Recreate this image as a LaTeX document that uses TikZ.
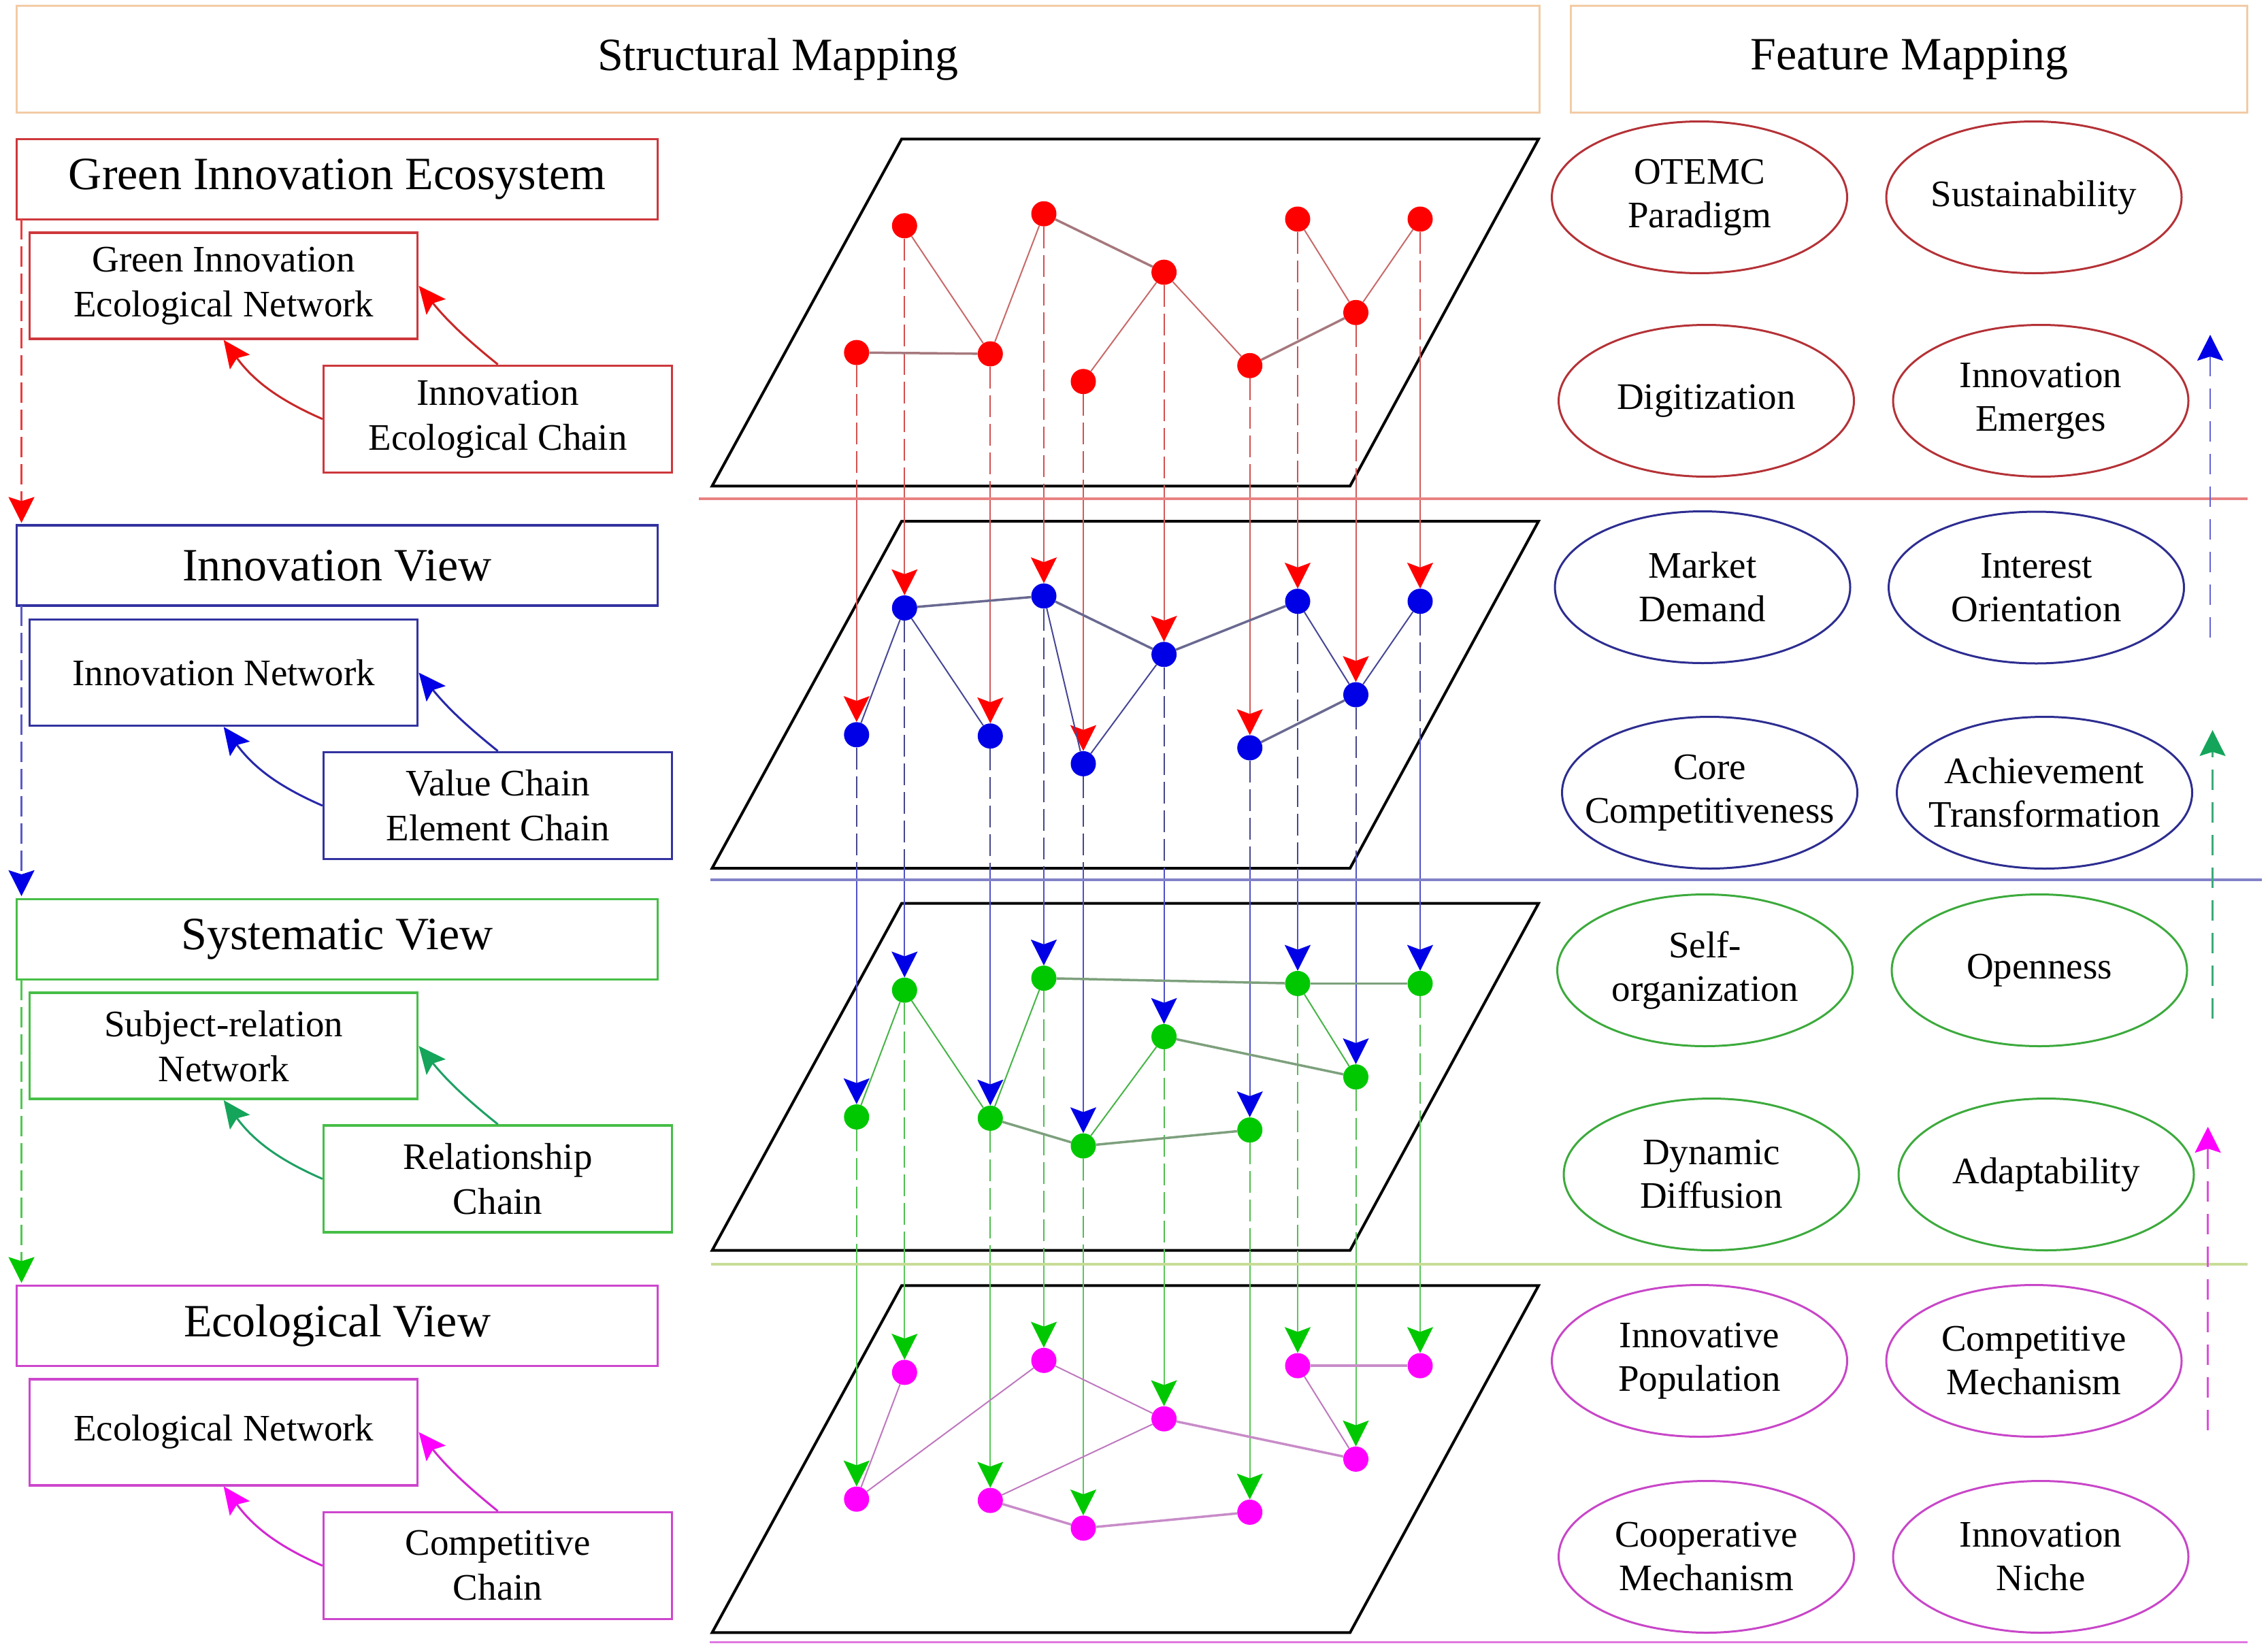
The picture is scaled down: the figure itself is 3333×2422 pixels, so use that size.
\documentclass[tikz,border=0pt]{standalone}
\usepackage{fontspec}
\setmainfont{Liberation Serif}
\usetikzlibrary{shapes.geometric,arrows.meta,calc}
\definecolor{hdrc}{RGB}{243,203,165}
\definecolor{bred}{RGB}{205,55,60}
\definecolor{bblue}{RGB}{50,50,160}
\definecolor{bgreen}{RGB}{70,190,70}
\definecolor{bmag}{RGB}{205,70,205}
\definecolor{ered}{RGB}{180,50,55}
\definecolor{eblue}{RGB}{45,45,145}
\definecolor{egreen}{RGB}{60,170,60}
\definecolor{emag}{RGB}{200,70,200}
\definecolor{nred}{RGB}{255,0,0}
\definecolor{nblue}{RGB}{0,0,230}
\definecolor{ngreen}{RGB}{0,200,0}
\definecolor{nmag}{RGB}{255,0,255}
\definecolor{nteal}{RGB}{20,165,90}
\definecolor{sepred}{RGB}{232,130,130}
\definecolor{sepblue}{RGB}{130,130,200}
\definecolor{sepgreen}{RGB}{200,220,150}
\definecolor{sepmag}{RGB}{225,120,225}
\definecolor{dred}{RGB}{210,80,80}
\definecolor{dblue}{RGB}{70,70,140}
\definecolor{dgreen}{RGB}{80,190,80}
\definecolor{sred}{RGB}{210,90,90}
\definecolor{sblue}{RGB}{80,80,200}
\definecolor{sgreen}{RGB}{90,200,90}
\definecolor{e1a}{RGB}{200,105,105}
\definecolor{e1b}{RGB}{165,120,125}
\definecolor{e2a}{RGB}{70,70,150}
\definecolor{e2b}{RGB}{105,105,145}
\definecolor{e3a}{RGB}{70,180,70}
\definecolor{e3b}{RGB}{125,160,125}
\definecolor{e4a}{RGB}{190,120,190}
\definecolor{e4b}{RGB}{200,140,200}
\definecolor{ldred}{RGB}{235,60,60}
\definecolor{ldblue}{RGB}{90,90,200}
\definecolor{ldgreen}{RGB}{80,200,80}
\definecolor{cred}{RGB}{200,40,40}
\definecolor{cblue}{RGB}{40,40,170}
\definecolor{cteal}{RGB}{30,160,100}
\definecolor{cmag}{RGB}{210,40,210}
\definecolor{ublue}{RGB}{100,100,210}
\definecolor{uteal}{RGB}{60,170,120}
\definecolor{umag}{RGB}{220,80,220}
\begin{document}
\begin{tikzpicture}[x=1pt,y=-1pt,
  hdrbox/.style={draw=hdrc, line width=3pt, minimum height=157pt, inner sep=0pt, font=\fontsize{68}{80}\selectfont},
  titlebox/.style={draw=#1, line width=3.5pt, minimum width=942pt, minimum height=118pt, inner sep=0pt, font=\fontsize{68}{80}\selectfont},
  subbox/.style={draw=#1, line width=3.5pt, minimum width=570pt, minimum height=156pt, inner sep=0pt, align=center, font=\fontsize{55}{66}\selectfont},
  chainbox/.style={draw=#1, line width=3.5pt, minimum width=512pt, minimum height=157pt, inner sep=0pt, align=center, font=\fontsize{55}{66}\selectfont},
  feat/.style={ellipse, draw=#1, line width=3pt, minimum width=434pt, minimum height=223pt, inner sep=0pt},
  ftext/.style={align=center, inner sep=0pt, font=\fontsize{55}{64}\selectfont},
  dot/.style={circle, fill=#1, minimum size=37pt, inner sep=0pt},
  plane/.style={draw=black, line width=4pt, line join=miter},
  layerdash/.style={line width=2pt, dash pattern=on 32pt off 10pt},
  layerline/.style={line width=2pt},
  thinedge/.style={line width=2pt},
  thickedge/.style={line width=3.5pt},
  sepline/.style={line width=3.5pt},
  leftarr/.style 2 args={draw=#1, line width=2.5pt, dash pattern=on 30pt off 10pt, -{Stealth[length=38pt,width=38pt,inset=6pt,color=#2]}},
  uparr/.style 2 args={draw=#1, line width=2.5pt, dash pattern=on 30pt off 18pt, -{Stealth[length=38pt,width=38pt,inset=6pt,color=#2]}},
  chainarr/.style 2 args={draw=#1, line width=3pt, -{Stealth[length=40pt,width=36pt,inset=7pt,color=#2]}}
]
\useasboundingbox (0,0) rectangle (3333,2422);

% headers
\node[hdrbox, minimum width=2238pt] (h1) at (1143.5,87.25) {Structural Mapping};
\node[hdrbox, minimum width=994pt] (h2) at (2805.9,87.25) {Feature Mapping};

% planes
\foreach \ty in {204.3,766,1327.7,1889.4}{
  \draw[plane] (1325,\ty) -- (2261,\ty) -- (1984,\ty+510) -- (1046.5,\ty+510) -- cycle;
}

% network nodes
\foreach \lk/\ty/\col in {1/204.3/nred,2/766/nblue,3/1327.7/ngreen,4/1889.4/nmag}{
  \foreach \nn/\px/\py in {1/1258.8/313.8,2/1329.3/127.5,3/1455.3/315.7,4/1534/109.9,5/1592/356.4,6/1710.6/195.8,7/1836.7/333,8/1907/117.7,9/1992.5/255,10/2087/117.7}{
    \node[dot=\col] (L\lk n\nn) at (\px,\ty+\py) {};
  }
}

% exit points of planes
\foreach \lk/\ty in {1/204.3,2/766,3/1327.7}{
  \foreach \nn/\px/\ey in {1/1258.8/510,2/1329.3/510,3/1455.3/510,4/1534/510,5/1592/510,6/1710.6/510,7/1836.7/510,8/1907/510,9/1992.5/491.7,10/2087/318.6}{
    \coordinate (X\lk n\nn) at (\px,\ty+\ey);
  }
}

% vertical mapping lines
\foreach \lk/\lnext/\dc/\sc/\hc in {1/2/dred/sred/nred,2/3/dblue/sblue/nblue,3/4/dgreen/sgreen/ngreen}{
  \foreach \nn in {1,...,10}{
    \draw[layerdash,\dc] (L\lk n\nn) -- (X\lk n\nn);
    \draw[layerline,\sc,-{Stealth[length=38pt,width=38pt,inset=7pt,color=\hc]}] (X\lk n\nn) -- (L\lnext n\nn);
  }
}

% edges layer 1
\foreach \ea/\eb in {2/3,3/4,5/6,6/7,8/9,9/10} \draw[thinedge,e1a] (L1n\ea) -- (L1n\eb);
\foreach \ea/\eb in {1/3,4/6,7/9} \draw[thickedge,e1b] (L1n\ea) -- (L1n\eb);
% edges layer 2
\foreach \ea/\eb in {1/2,2/3,4/5,5/6,8/9,9/10} \draw[thinedge,e2a] (L2n\ea) -- (L2n\eb);
\foreach \ea/\eb in {2/4,4/6,6/8,7/9} \draw[thickedge,e2b] (L2n\ea) -- (L2n\eb);
% edges layer 3
\foreach \ea/\eb in {1/2,2/3,3/4,5/6,8/9} \draw[thinedge,e3a] (L3n\ea) -- (L3n\eb);
\foreach \ea/\eb in {4/8,8/10,6/9,3/5,5/7} \draw[thickedge,e3b] (L3n\ea) -- (L3n\eb);
% edges layer 4
\foreach \ea/\eb in {1/2,1/4,4/6,3/6,8/9} \draw[thinedge,e4a] (L4n\ea) -- (L4n\eb);
\foreach \ea/\eb in {8/10,6/9,3/5,5/7} \draw[thickedge,e4b] (L4n\ea) -- (L4n\eb);

% separator lines
\coordinate (r1a) at (1027,733); \coordinate (r1b) at (3303,733);
\coordinate (r2a) at (1044,1293); \coordinate (r2b) at (3324,1293);
\coordinate (r3a) at (1045,1858); \coordinate (r3b) at (3303,1858);
\coordinate (r4a) at (1043,2413.6); \coordinate (r4b) at (3303,2413.6);
\draw[sepline,sepred] (r1a) -- (r1b);
\draw[sepline,sepblue] (r2a) -- (r2b);
\draw[sepline,sepgreen] (r3a) -- (r3b);
\draw[sepline,sepmag] (r4a) -- (r4b);

% left column
\node[titlebox=bred] (t1) at (495.6,263.4) {Green Innovation Ecosystem};
\node[subbox=bred] (s1) at (328.7,420) {Green Innovation\\Ecological Network};
\node[chainbox=bred] (c1) at (731.6,615.8) {Innovation\\Ecological Chain};
\node[titlebox=bblue] (t2) at (495.6,831.2) {Innovation View};
\node[subbox=bblue] (s2) at (328.7,988.5) {Innovation Network};
\node[chainbox=bblue] (c2) at (731.6,1184) {Value Chain\\Element Chain};
\node[titlebox=bgreen] (t3) at (495.6,1380.4) {Systematic View};
\node[subbox=bgreen] (s3) at (328.7,1537.2) {Subject-relation\\Network};
\node[chainbox=bgreen] (c3) at (731.6,1732.5) {Relationship\\Chain};
\node[titlebox=bmag] (t4) at (495.6,1948.5) {Ecological View};
\node[subbox=bmag] (s4) at (328.7,2104.8) {Ecological Network};
\node[chainbox=bmag] (c4) at (731.6,2301) {Competitive\\Chain};

\draw[chainarr={cred}{nred}] (c1.north) to[bend left=6] (s1.east);
\draw[chainarr={cred}{nred}] (c1.west) to[bend left=15] (s1.south);
\draw[chainarr={cblue}{nblue}] (c2.north) to[bend left=6] (s2.east);
\draw[chainarr={cblue}{nblue}] (c2.west) to[bend left=15] (s2.south);
\draw[chainarr={cteal}{nteal}] (c3.north) to[bend left=6] (s3.east);
\draw[chainarr={cteal}{nteal}] (c3.west) to[bend left=15] (s3.south);
\draw[chainarr={cmag}{nmag}] (c4.north) to[bend left=6] (s4.east);
\draw[chainarr={cmag}{nmag}] (c4.west) to[bend left=15] (s4.south);

\coordinate (v1a) at (31.6,322.3); \coordinate (v1b) at (31.6,768.5);
\coordinate (v2a) at (31.6,890);   \coordinate (v2b) at (31.6,1317);
\coordinate (v3a) at (31.6,1439.7);\coordinate (v3b) at (31.6,1885.5);
\draw[leftarr={ldred}{nred}] (v1a) -- (v1b);
\draw[leftarr={ldblue}{nblue}] (v2a) -- (v2b);
\draw[leftarr={ldgreen}{ngreen}] (v3a) -- (v3b);

% feature ellipses
\node[feat=ered] (f1) at (2497.5,290) {};
\node[ftext] (f1t) at (f1) {OTEMC\\Paradigm};
\node[feat=ered] (f2) at (2989,290) {};
\node[ftext] (f2t) at (f2) {Sustainability};
\node[feat=ered] (f3) at (2507.5,589) {};
\node[ftext] (f3t) at (f3) {Digitization};
\node[feat=ered] (f4) at (2999,589) {};
\node[ftext] (f4t) at (f4) {Innovation\\Emerges};
\node[feat=eblue] (f5) at (2502,863) {};
\node[ftext] (f5t) at (f5) {Market\\Demand};
\node[feat=eblue] (f6) at (2992.5,863.5) {};
\node[ftext] (f6t) at (f6) {Interest\\Orientation};
\node[feat=eblue] (f7) at (2512.5,1165) {};
\node[ftext] (f7t) at (f7) {Core\\Competitiveness};
\node[feat=eblue] (f8) at (3004.5,1165) {};
\node[ftext] (f8t) at (f8) {Achievement\\Transformation};
\node[feat=egreen] (f9) at (2505.5,1426) {};
\node[ftext] (f9t) at (f9) {Self-\\organization};
\node[feat=egreen] (f10) at (2997,1426) {};
\node[ftext] (f10t) at (f10) {Openness};
\node[feat=egreen] (f11) at (2515,1726) {};
\node[ftext] (f11t) at (f11) {Dynamic\\Diffusion};
\node[feat=egreen] (f12) at (3007,1726) {};
\node[ftext] (f12t) at (f12) {Adaptability};
\node[feat=emag] (f13) at (2497.5,2000) {};
\node[ftext] (f13t) at (f13) {Innovative\\Population};
\node[feat=emag] (f14) at (2989,2000) {};
\node[ftext] (f14t) at (f14) {Competitive\\Mechanism};
\node[feat=emag] (f15) at (2507.5,2288) {};
\node[ftext] (f15t) at (f15) {Cooperative\\Mechanism};
\node[feat=emag] (f16) at (2999,2288) {};
\node[ftext] (f16t) at (f16) {Innovation\\Niche};

% right upward arrows
\coordinate (u1a) at (3248,937);    \coordinate (u1b) at (3248,492);
\coordinate (u2a) at (3251.5,1497); \coordinate (u2b) at (3251.5,1073);
\coordinate (u3a) at (3244.6,2102); \coordinate (u3b) at (3244.6,1656);
\draw[uparr={ublue}{nblue}] (u1a) -- (u1b);
\draw[uparr={uteal}{nteal}] (u2a) -- (u2b);
\draw[uparr={umag}{nmag}] (u3a) -- (u3b);
\end{tikzpicture}
\end{document}
